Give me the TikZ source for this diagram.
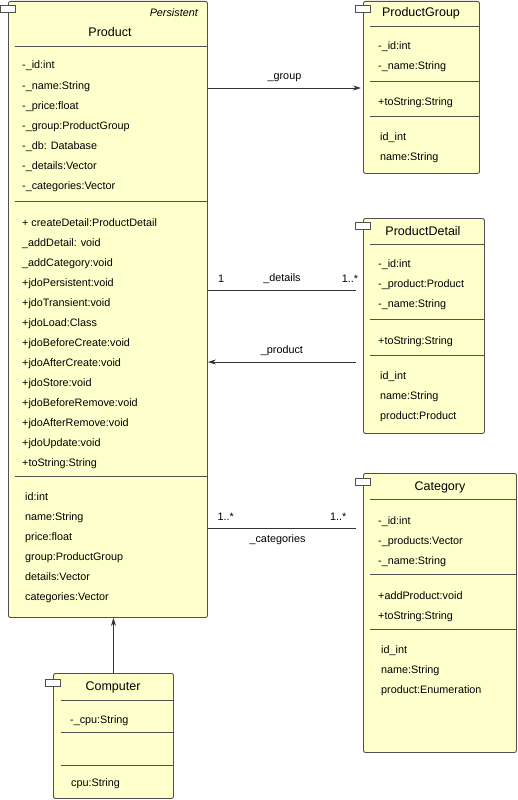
\documentclass[tikz,border=0pt]{standalone}
\usepackage{fontspec}
\setmainfont{Liberation Sans}
\usetikzlibrary{arrows.meta,positioning}
\definecolor{classfill}{HTML}{FFFFCC}
\definecolor{classline}{HTML}{505050}

\begin{document}
\begin{tikzpicture}[
    x=1pt, y=-1pt,
    box/.style={rectangle, draw=classline, fill=classfill, rounded corners=2pt, line width=0.9pt, inner sep=0pt, anchor=north west},
    tab/.style={rectangle, draw=classline, fill=white, line width=0.8pt, minimum width=15pt, minimum height=7pt, inner sep=0pt},
    title/.style={font=\fontsize{12.5}{15}\selectfont, anchor=base, inner sep=0pt},
    member/.style={font=\fontsize{10.8}{13}\selectfont, anchor=base west, inner sep=0pt},
    sep/.style={draw=classline, line width=0.9pt},
    link/.style={draw=black!80, line width=0.8pt},
    arrow/.style={link, -{Stealth[length=8pt, width=5pt]}},
    lbl/.style={font=\fontsize{10.8}{13}\selectfont, anchor=base, inner sep=0pt}
]
    \useasboundingbox (0,0) rectangle (517,800);

    % class boxes
    \node[box, minimum width=199pt, minimum height=616pt] (product) at (8,1) {};
    \node[box, minimum width=116pt, minimum height=172pt] (group) at (363,1) {};
    \node[box, minimum width=121pt, minimum height=215pt] (detail) at (363,218) {};
    \node[box, minimum width=153pt, minimum height=279pt] (category) at (363,473) {};
    \node[box, minimum width=120pt, minimum height=125pt] (computer) at (53,673) {};

    \node[tab] (producttab) at ([yshift=-7.5pt]product.north west) {};
    \node[tab] (grouptab) at ([yshift=-7.5pt]group.north west) {};
    \node[tab] (detailtab) at ([yshift=-7.5pt]detail.north west) {};
    \node[tab] (categorytab) at ([yshift=-8.5pt]category.north west) {};
    \node[tab] (computertab) at ([yshift=-9.5pt]computer.north west) {};

    % Product
    \node[font=\itshape\fontsize{10.8}{13}\selectfont, anchor=base east, inner sep=0pt] (productstereo) at (198,17) {Persistent};
    \node[title] (producttitle) at (110,36.5) {Product};
    \draw[sep] (15,46) -- (207,46);
    \foreach \txt [count=\i from 0] in {-\_id:int, -\_name:String, -\_price:float, -\_group:ProductGroup, -\_db: Database, -\_details:Vector, -\_categories:Vector}
        \node[member] (productattr\i) at (22,69+20*\i) {\txt};
    \draw[sep] (15,201) -- (207,201);
    \foreach \txt [count=\i from 0] in {+ createDetail:ProductDetail, \_addDetail: void, \_addCategory:void, +jdoPersistent:void, +jdoTransient:void, +jdoLoad:Class, +jdoBeforeCreate:void, +jdoAfterCreate:void, +jdoStore:void, +jdoBeforeRemove:void, +jdoAfterRemove:void, +jdoUpdate:void, +toString:String}
        \node[member] (productop\i) at (22,226+20*\i) {\txt};
    \draw[sep] (15,476) -- (207,476);
    \foreach \txt [count=\i from 0] in {id:int, name:String, price:float, group:ProductGroup, details:Vector, categories:Vector}
        \node[member] (productprop\i) at (25,500+20*\i) {\txt};

    % ProductGroup
    \node[title] (grouptitle) at (421,16.5) {ProductGroup};
    \draw[sep] (370,26) -- (479,26);
    \node[member] (groupattr0) at (378,50) {-\_id:int};
    \node[member] (groupattr1) at (378,70) {-\_name:String};
    \draw[sep] (370,81) -- (479,81);
    \node[member] (groupop0) at (378,105) {+toString:String};
    \draw[sep] (370,116) -- (479,116);
    \node[member] (groupprop0) at (380,140) {id\_int};
    \node[member] (groupprop1) at (380,160) {name:String};

    % ProductDetail
    \node[title] (detailtitle) at (423,235.5) {ProductDetail};
    \draw[sep] (370,244) -- (484,244);
    \foreach \txt [count=\i from 0] in {-\_id:int, -\_product:Product, -\_name:String}
        \node[member] (detailattr\i) at (378,267+20*\i) {\txt};
    \draw[sep] (370,319) -- (484,319);
    \node[member] (detailop0) at (378,344) {+toString:String};
    \draw[sep] (370,355) -- (484,355);
    \foreach \txt [count=\i from 0] in {id\_int, name:String, product:Product}
        \node[member] (detailprop\i) at (380,379+20*\i) {\txt};

    % Category
    \node[title] (categorytitle) at (440,490.5) {Category};
    \draw[sep] (370,499) -- (516,499);
    \foreach \txt [count=\i from 0] in {-\_id:int, -\_products:Vector, -\_name:String}
        \node[member] (categoryattr\i) at (378,524+20*\i) {\txt};
    \draw[sep] (370,574) -- (516,574);
    \node[member] (categoryop0) at (378,599) {+addProduct:void};
    \node[member] (categoryop1) at (378,619) {+toString:String};
    \draw[sep] (370,629) -- (516,629);
    \foreach \txt [count=\i from 0] in {id\_int, name:String, product:Enumeration}
        \node[member] (categoryprop\i) at (381,653+20*\i) {\txt};

    % Computer
    \node[title] (computertitle) at (113,690.5) {Computer};
    \draw[sep] (61,700) -- (173,700);
    \node[member] (computerattr0) at (70,723) {-\_cpu:String};
    \draw[sep] (61,732) -- (173,732);
    \draw[sep] (61,765) -- (173,765);
    \node[member] (computerprop0) at (71,786) {cpu:String};

    % associations
    \coordinate (groupin) at (361,88);
    \coordinate (detailin) at (356,290);
    \coordinate (productout) at (356,362);
    \coordinate (categoryin) at (356,528);

    \draw[arrow] (product.east |- groupin) -- node[lbl, yshift=9pt] (grouplbl) {\_group} (groupin);
    \draw[link] (product.east |- detailin) --
        node[lbl, pos=0.09, yshift=8pt] (detailmult0) {1}
        node[lbl, midway, yshift=9pt] (detaillbl) {\_details}
        node[lbl, pos=0.96, yshift=8pt] (detailmult1) {1..*} (detailin);
    \draw[arrow] (productout) -- node[lbl, yshift=9pt] (productlbl) {\_product} (product.east |- productout);
    \draw[link] (product.east |- categoryin) --
        node[lbl, pos=0.12, yshift=8pt] (categorymult0) {1..*}
        node[lbl, pos=0.47, yshift=-14pt] (categorylbl) {\_categories}
        node[lbl, pos=0.88, yshift=8pt] (categorymult1) {1..*} (categoryin);

    % generalisation
    \draw[arrow] (computer.north) -- (computer.north |- product.south);
\end{tikzpicture}
\end{document}
